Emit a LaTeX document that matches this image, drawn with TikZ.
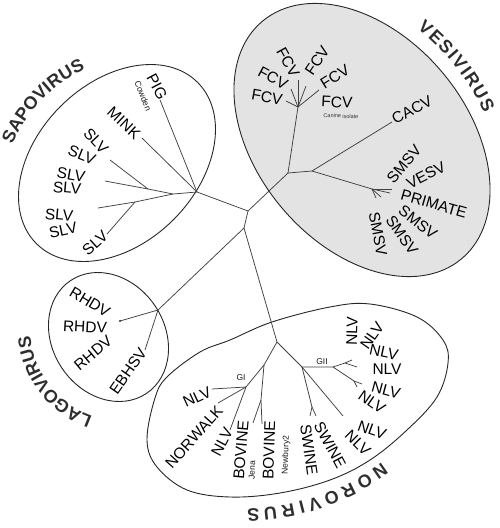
\documentclass[tikz,border=0pt]{standalone}
\usepackage{fontspec}
\setmainfont{Liberation Sans}
\begin{document}
\begin{tikzpicture}[x=1pt,y=-1pt,
  br/.style={draw=black!75, line width=0.75pt},
  grp/.style={draw=black!85, line width=0.9pt},
  lab/.style={font=\fontsize{15.5}{16}\selectfont, inner sep=0pt, text=black},
  sm/.style={font=\fontsize{8.5}{9}\selectfont, inner sep=0pt, text=black!90},
  tiny/.style={font=\fontsize{5.5}{6}\selectfont, inner sep=0pt, text=black!80},
  glet/.style={font=\fontsize{18}{18}\selectfont\bfseries, inner sep=0pt, text=black!82}]
\useasboundingbox (0,0) rectangle (500,528);

% ---- group outlines ----
\draw[grp, fill=black!11, rotate around={-50:(362,140)}] (362,140) ellipse [x radius=155, y radius=105];
\draw[grp, rotate around={45:(117,163)}] (117,163) ellipse [x radius=114, y radius=80];
\draw[grp, rotate around={-56:(108.5,337)}] (108.5,337) ellipse [x radius=68, y radius=56];
\draw[grp] plot[smooth cycle, tension=0.6] coordinates {(147,440) (155,398) (167,377) (200,352) (230,340) (272,322) (330,307) (370,304) (417,317) (443,340) (448,363) (437,397) (407,430) (370,460) (330,480) (280,493) (230,497) (187,490) (157,467)};

% ---- tree junctions ----
\coordinate (A) at (248,211);
\coordinate (C) at (244,228);
\coordinate (Vj) at (288,173);
\coordinate (Vf) at (298,107);
\coordinate (Vc) at (312,171);
\coordinate (cacvE) at (392,122);
\coordinate (smF) at (372,189);
\coordinate (f1) at (286,101);
\coordinate (f2) at (291,89);
\coordinate (f3) at (298,80);
\coordinate (f4) at (306,86);
\coordinate (f5) at (319,90);
\coordinate (s1) at (392,189);
\coordinate (s2) at (390,193);
\coordinate (s3) at (376,198);
\coordinate (s4) at (381,197);
\coordinate (H1) at (197,192);
\coordinate (pigE) at (160,100);
\coordinate (minkE) at (142,138);
\coordinate (H2) at (173,194);
\coordinate (Sa) at (148,189);
\coordinate (sa1) at (105,181);
\coordinate (sa2) at (110,160);
\coordinate (Sb) at (135,202);
\coordinate (sb1) at (98,208);
\coordinate (sb2) at (107,234);
\coordinate (Lh) at (158,310);
\coordinate (rhdvE) at (120,321);
\coordinate (ebhsvE) at (145,350);
\coordinate (N1) at (277,342);
\coordinate (J) at (264,365);
\coordinate (GIh) at (246,387);
\coordinate (g1) at (212,389);
\coordinate (g2) at (218,403);
\coordinate (g3) at (230,430);
\coordinate (Bj) at (261,400);
\coordinate (bj1) at (253,423);
\coordinate (bj2) at (262,424);
\coordinate (G2) at (302,367);
\coordinate (G2h) at (333,367);
\coordinate (Ga) at (345,363);
\coordinate (ga1) at (357,367);
\coordinate (ga2) at (352,360);
\coordinate (Gb) at (354,381);
\coordinate (gb1) at (362,384);
\coordinate (gb2) at (357,387);
\coordinate (SWh) at (312,407);
\coordinate (sw1) at (310,416);
\coordinate (sw2) at (316,416);
\coordinate (nlvE) at (343,416);

% ---- branches ----
\draw[br] (H1) -- (A) -- (Vj) -- (Vf);
\draw[br] (Vj) -- (Vc) -- (cacvE);
\draw[br] (Vc) -- (smF);
\foreach \e in {f1,f2,f3,f4,f5} \draw[br] (Vf) -- (\e);
\foreach \e in {s1,s2,s3,s4} \draw[br] (smF) -- (\e);
\draw[br] (A) -- (C) -- (Lh);
\draw[br] (C) -- (N1);
\draw[br] (H1) -- (pigE);
\draw[br] (H1) -- (minkE);
\draw[br] (H1) -- (H2) -- (Sa) -- (sa1);
\draw[br] (Sa) -- (sa2);
\draw[br] (H2) -- (Sb) -- (sb1);
\draw[br] (Sb) -- (sb2);
\draw[br] (Lh) -- (rhdvE);
\draw[br] (Lh) -- (ebhsvE);
\fill[black!80] (rhdvE) circle (1.1);
\draw[br] (N1) -- (J) -- (GIh) -- (g1);
\draw[br] (GIh) -- (g2);
\draw[br] (GIh) -- (g3);
\draw[br] (J) -- (Bj) -- (bj2);
\draw[br] (Bj) -- (bj1);
\draw[br] (N1) -- (G2) -- (G2h) -- (Ga) -- (ga1);
\draw[br] (Ga) -- (ga2);
\draw[br] (G2h) -- (Gb) -- (gb1);
\draw[br] (Gb) -- (gb2);
\draw[br] (G2) -- (SWh) -- (sw1);
\draw[br] (SWh) -- (sw2);
\draw[br] (G2) -- (nlvE);

% ---- Sapovirus labels ----
\node[lab, rotate=-62] (pig) at (157,87) {PIG};
\node[sm, rotate=-68] (cowden) at (143,96) {Cowden};
\node[lab, rotate=-43] (mink) at (124,123) {MINK};
\node[lab, rotate=-47] (slv1) at (96,141) {SLV};
\node[lab, rotate=-22] (slv2) at (82,155) {SLV};
\node[lab, rotate=-10] (slv3) at (71,175) {SLV};
\node[lab, rotate=-5] (slv4) at (67,188) {SLV};
\node[lab, rotate=-5] (slv5) at (59,215) {SLV};
\node[lab, rotate=12] (slv6) at (63,230) {SLV};
\node[lab, rotate=42] (slv7) at (95,243) {SLV};

% ---- Vesivirus labels ----
\node[lab, rotate=-61] (fcv1) at (288,62) {FCV};
\node[lab, rotate=56] (fcv2) at (317,61) {FCV};
\node[lab, rotate=-28] (fcv3) at (273,78) {FCV};
\node[lab, rotate=32] (fcv4) at (335,77) {FCV};
\node[lab, rotate=-10] (fcv5) at (267,97) {FCV};
\node[lab, rotate=-3] (fcv6) at (337,102) {FCV};
\node[tiny, rotate=-3] (canine) at (341,116) {Canine isolate};
\node[lab, rotate=28] (cacv) at (412,110) {CACV};
\node[lab, rotate=50] (smsv1) at (404,164) {SMSV};
\node[lab, rotate=27] (vesv) at (426,175) {VESV};
\node[lab, rotate=-16] (primate) at (434,204) {PRIMATE};
\node[lab, rotate=-38] (smsv2) at (418,222) {SMSV};
\node[lab, rotate=-55] (smsv3) at (402,235) {SMSV};
\node[lab, rotate=-79] (smsv4) at (378,234) {SMSV};

% ---- Lagovirus labels ----
\node[lab, rotate=-31] (rhdv1) at (90,302) {RHDV};
\node[lab, rotate=-3] (rhdv2) at (85,327) {RHDV};
\node[lab, rotate=40] (rhdv3) at (93,353) {RHDV};
\node[lab, rotate=55] (ebhsv) at (128,371) {EBHSV};

% ---- Norovirus labels ----
\node[sm] (gi) at (241,378) {GI};
\node[sm] (gii) at (322,362) {GII};
\node[lab, rotate=25] (nlva) at (197,397) {NLV};
\node[lab, rotate=48] (norwalk) at (194,437) {NORWALK};
\node[lab, rotate=62] (nlvb) at (222,442) {NLV};
\node[lab, rotate=85] (bov1) at (241,450) {BOVINE};
\node[sm, rotate=88] (jena) at (252,470) {Jena};
\node[lab, rotate=88] (bov2) at (269,450) {BOVINE};
\node[sm, rotate=88] (newbury) at (286,455) {Newbury2};
\node[lab, rotate=-82] (swine1) at (309,450) {SWINE};
\node[lab, rotate=-62] (swine2) at (330,445) {SWINE};
\node[lab, rotate=88] (nlv1) at (352,331) {NLV};
\node[lab, rotate=55] (nlv2) at (372,336) {NLV};
\node[lab, rotate=-12] (nlv3) at (384,352) {NLV};
\node[lab] (nlv4) at (387,369) {NLV};
\node[lab, rotate=-15] (nlv5) at (386,390) {NLV};
\node[lab, rotate=-35] (nlv6) at (372,402) {NLV};
\node[lab, rotate=-20] (nlv7) at (372,430) {NLV};
\node[lab, rotate=-45] (nlv8) at (358,443) {NLV};

% ---- group names (letters along arcs) ----
\foreach \a/\t [count=\i] in {155.4/S,150.26/A,145.12/P,139.78/O,134.44/V,130.86/I,127.08/R,121.74/U,116.6/S}
  \node[glet, rotate=\a-90] (sapo\i) at ({143+147*cos(\a)},{198-147*sin(\a)}) {\t};
\foreach \a/\t [count=\i] in {49.9/V,46.6/E,43.4/S,40.9/I,38.5/V,36.0/I,33.5/R,30.0/U,26.6/S}
  \node[glet, rotate=\a-90] (vesi\i) at ({268+245*cos(\a)},{215-245*sin(\a)}) {\t};
\foreach \a/\t [count=\i] in {-112/L,-119.5/A,-127.9/G,-136.6/O,-144.7/V,-150.2/I,-156/R,-164.1/U,-171.9/S}
  \node[glet, rotate=\a-90] (lago\i) at ({122+98*cos(\a)},{329-98*sin(\a)}) {\t};
\foreach \a/\t [count=\i] in {-55/N,-59.4/O,-63.8/R,-68.2/O,-72.5/V,-75.7/I,-79.1/R,-83.4/U,-87.5/S}
  \node[glet, rotate=\a-90] (noro\i) at ({243+239*cos(\a)},{276-239*sin(\a)}) {\t};
\end{tikzpicture}
\end{document}
